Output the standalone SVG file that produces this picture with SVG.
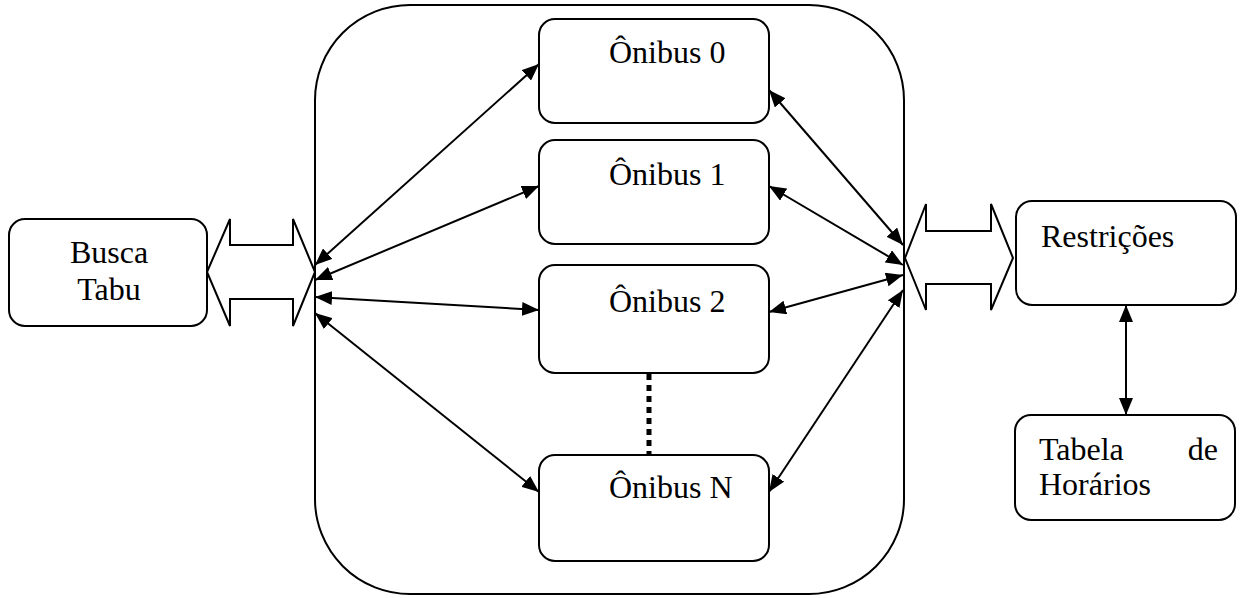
<svg xmlns="http://www.w3.org/2000/svg" width="1246" height="598" viewBox="0 0 1246 598">
  <style>
    .box { fill: #fff; stroke: #000; stroke-width: 2; }
    .wire { fill: none; stroke: #000; stroke-width: 2; marker-start: url(#head); marker-end: url(#head); }
    .fat { fill: #fff; stroke: #000; stroke-width: 2; stroke-linejoin: miter; }
    .lbl { font-family: 'Liberation Serif', 'DejaVu Serif', 'Times New Roman', serif; font-size: 32px; fill: #000; }
  </style>
  <defs>
    <marker id="head" viewBox="0 0 17 14" refX="17" refY="7" markerWidth="17" markerHeight="14" markerUnits="userSpaceOnUse" orient="auto-start-reverse">
      <path d="M0,0 L17,7 L0,14 z" fill="#000"/>
    </marker>
  </defs>
  <rect width="1246" height="598" fill="#fff"/>

  <!-- bus pool container -->
  <g id="pool">
    <rect class="box" x="315" y="5" width="589" height="589" rx="95" ry="95"/>
  </g>

  <g id="busca-tabu">
    <rect class="box" x="9" y="219" width="198" height="107" rx="16" ry="16"/>
    <text class="lbl" x="109" y="263" text-anchor="middle">Busca</text>
    <text class="lbl" x="109" y="300" text-anchor="middle">Tabu</text>
  </g>

  <g id="onibus-0">
    <rect class="box" x="539" y="19" width="230" height="104" rx="16" ry="16"/>
    <text class="lbl" x="609" y="63">Ônibus 0</text>
  </g>
  <g id="onibus-1">
    <rect class="box" x="539" y="140" width="230" height="104" rx="16" ry="16"/>
    <text class="lbl" x="609" y="185">Ônibus 1</text>
  </g>
  <g id="onibus-2">
    <rect class="box" x="539" y="265" width="230" height="108" rx="16" ry="16"/>
    <text class="lbl" x="609" y="312">Ônibus 2</text>
  </g>
  <g id="onibus-n">
    <rect class="box" x="539" y="455" width="230" height="106" rx="16" ry="16"/>
    <text class="lbl" x="609" y="498">Ônibus N</text>
  </g>

  <g id="restricoes">
    <rect class="box" x="1016" y="201" width="220" height="104" rx="16" ry="16"/>
    <text class="lbl" x="1041" y="247">Restrições</text>
  </g>

  <g id="tabela-horarios">
    <rect class="box" x="1015" y="415" width="220" height="105" rx="16" ry="16"/>
    <text class="lbl" x="1039" y="460">Tabela</text>
    <text class="lbl" x="1218" y="460" text-anchor="end">de</text>
    <text class="lbl" x="1039" y="495">Horários</text>
  </g>

  <g id="connectors">
    <!-- wide two-way interface arrows -->
    <polygon class="fat" points="207,272 230,219 230,245 293,245 293,219 315,272 293,326 293,299 230,299 230,326"/>
    <polygon class="fat" points="905,258 926,204 926,231 991,231 991,204 1013,258 991,310 991,284 926,284 926,310"/>

    <!-- left hub to buses -->
    <line class="wire" x1="315" y1="265" x2="539" y2="64"/>
    <line class="wire" x1="315" y1="280" x2="539" y2="186"/>
    <line class="wire" x1="315" y1="297" x2="539" y2="310"/>
    <line class="wire" x1="315" y1="313" x2="539" y2="492"/>

    <!-- buses to right hub -->
    <line class="wire" x1="769" y1="90" x2="903" y2="245"/>
    <line class="wire" x1="769" y1="186" x2="903" y2="265"/>
    <line class="wire" x1="769" y1="312" x2="903" y2="275"/>
    <line class="wire" x1="769" y1="492" x2="903" y2="290"/>

    <!-- ellipsis between bus 2 and bus N -->
    <line x1="649" y1="374" x2="649" y2="454" stroke="#000" stroke-width="5" stroke-dasharray="6,5"/>

    <!-- constraints to timetable -->
    <line class="wire" x1="1126" y1="305" x2="1126" y2="415"/>
  </g>
</svg>
